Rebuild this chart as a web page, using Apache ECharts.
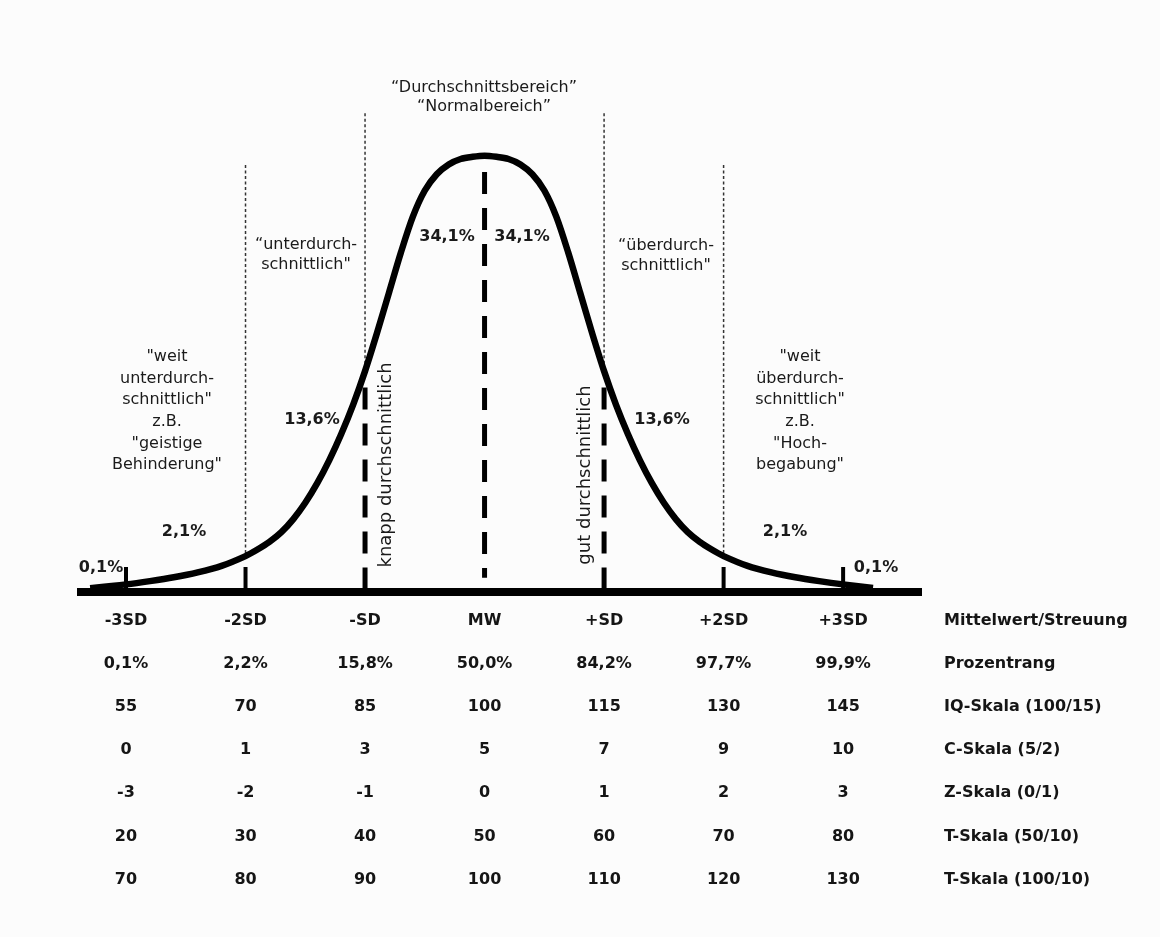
<!DOCTYPE html>
<html>
<head>
<meta charset="utf-8">
<script src="https://cdn.jsdelivr.net/npm/echarts@6/dist/echarts.min.js"></script>
<style>
html,body{margin:0;padding:0;background:#fcfcfc;}
#chart{width:1160px;height:937px;}
</style>
</head>
<body>
<div id="chart"></div>
<script>
// ---- data ----
const sdPositions = [-3, -2, -1, 0, 1, 2, 3];
const rowNames = ['Mittelwert/Streuung', 'Prozentrang', 'IQ-Skala (100/15)', 'C-Skala (5/2)', 'Z-Skala (0/1)', 'T-Skala (50/10)', 'T-Skala (100/10)'];
const rowSD   = ['-3SD', '-2SD', '-SD', 'MW', '+SD', '+2SD', '+3SD'];
const rowPR   = ['0,1%', '2,2%', '15,8%', '50,0%', '84,2%', '97,7%', '99,9%'];
const rowIQ   = ['55', '70', '85', '100', '115', '130', '145'];
const rowC    = ['0', '1', '3', '5', '7', '9', '10'];
const rowZ    = ['-3', '-2', '-1', '0', '1', '2', '3'];
const rowT50  = ['20', '30', '40', '50', '60', '70', '80'];
const rowT100 = ['70', '80', '90', '100', '110', '120', '130'];

// curve (x in SD units, y = height above baseline)
const curveX = [-3.3, -3.0, -2.8, -2.6, -2.4, -2.2, -2.0, -1.9, -1.8, -1.7, -1.6, -1.5, -1.4, -1.3, -1.2, -1.1, -1.0, -0.9, -0.8, -0.7, -0.6, -0.5, -0.4, -0.3, -0.2, -0.1, 0,
                0.1, 0.2, 0.3, 0.4, 0.5, 0.6, 0.7, 0.8, 0.9, 1.0, 1.1, 1.2, 1.3, 1.4, 1.5, 1.6, 1.7, 1.8, 1.9, 2.0, 2.2, 2.4, 2.6, 2.8, 3.0, 3.25];
const curveY = [0.0035, 0.007, 0.010, 0.0135, 0.018, 0.024, 0.033, 0.039, 0.046, 0.055, 0.067, 0.082, 0.100, 0.121, 0.145, 0.172, 0.203, 0.238, 0.275, 0.312, 0.345, 0.369, 0.384, 0.393, 0.398, 0.400, 0.401,
                0.400, 0.398, 0.393, 0.384, 0.369, 0.345, 0.312, 0.275, 0.238, 0.203, 0.172, 0.145, 0.121, 0.100, 0.082, 0.067, 0.055, 0.046, 0.039, 0.033, 0.024, 0.018, 0.0135, 0.010, 0.007, 0.0038];

const tickZ = [-3, -2, 2, 3];
const tickTop = 0.023;
const outerDottedZ = [-2, 2];
const outerDottedRange = [0.3925, 0.032];
const innerDottedZ = [-1, 1];
const innerDottedRange = [0.440, 0.204];
const innerDashRange = [0.188, 0];
const meanZ = 0;
const meanDashRange = [0.386, 0.013];

const rows = [rowSD, rowPR, rowIQ, rowC, rowZ, rowT50, rowT100];
const rowOffsets = [29, 72, 115, 158, 201, 245, 288];

// ---- chart ----
const FONT = "'DejaVu Sans', sans-serif";
const chart = echarts.init(document.getElementById('chart'));

function vline(z, range, style, z2) {
  return {
    type: 'line', xAxisIndex: 0, yAxisIndex: 0, symbol: 'none', silent: true,
    z: z2 || 2,
    data: [[z, range[0]], [z, range[1]]],
    lineStyle: style
  };
}

const series = [];
outerDottedZ.forEach(z => series.push(vline(z, outerDottedRange, {color: '#333', width: 1.5, type: [3, 2.5]})));
innerDottedZ.forEach(z => series.push(vline(z, innerDottedRange, {color: '#333', width: 1.5, type: [3, 2.5]})));
innerDottedZ.forEach(z => series.push(vline(z, innerDashRange, {color: '#000', width: 5, type: [22, 14], cap: 'butt'})));
series.push(vline(meanZ, meanDashRange, {color: '#000', width: 5, type: [22, 14], cap: 'butt'}));
tickZ.forEach(z => series.push(vline(z, [0, tickTop], {color: '#000', width: 4, type: 'solid', cap: 'butt'})));
series.push({
  type: 'line', xAxisIndex: 0, yAxisIndex: 0, symbol: 'none', silent: true, z: 5,
  smooth: 0.3,
  data: curveX.map((x, i) => [x, curveY[i]]),
  lineStyle: {color: '#000', width: 6.5, join: 'round'}
});

const xAxes = [{
  type: 'value', gridIndex: 0, position: 'bottom', min: -3.41, max: 3.66,
  axisLine: {show: true, onZero: false, lineStyle: {color: '#000', width: 8, cap: 'butt'}},
  axisTick: {show: false}, axisLabel: {show: false}, splitLine: {show: false}
}];
rows.forEach((row, i) => {
  xAxes.push({
    type: 'value', gridIndex: 0, position: 'bottom', min: -3.41, max: 3.66,
    offset: rowOffsets[i],
    name: rowNames[i], nameLocation: 'end', nameGap: 22,
    nameTextStyle: {fontFamily: FONT, fontWeight: 'bold', fontSize: 16, color: '#151515', align: 'left', verticalAlign: 'middle'},
    axisLine: {show: false, onZero: false}, axisTick: {show: false}, splitLine: {show: false},
    axisLabel: {
      show: true, customValues: sdPositions, margin: 0, verticalAlign: 'middle',
      fontFamily: FONT, fontWeight: 'bold', fontSize: 16, color: '#151515',
      formatter: v => row[sdPositions.indexOf(Math.round(v))]
    }
  });
});

const txt = (text, x, y, opts) => Object.assign({
  type: 'text', x: x, y: y, silent: true, z: 10,
  style: Object.assign({
    text: text, fill: '#1a1a1a', align: 'center', verticalAlign: 'middle',
    fontFamily: FONT, fontSize: 16, fontWeight: 'normal'
  }, opts && opts.style)
}, opts && opts.el);

const graphics = [
  txt('“Durchschnittsbereich”\n“Normalbereich”', 484, 97, {style: {lineHeight: 19}}),
  txt('“unterdurch-\nschnittlich"', 306, 255, {style: {lineHeight: 20}}),
  txt('“überdurch-\nschnittlich"', 666, 256, {style: {lineHeight: 20}}),
  txt('"weit\nunterdurch-\nschnittlich"\nz.B.\n"geistige\nBehinderung"', 167, 411, {style: {lineHeight: 21.6}}),
  txt('"weit\nüberdurch-\nschnittlich"\nz.B.\n"Hoch-\nbegabung"', 800, 411, {style: {lineHeight: 21.6}}),
  txt('34,1%', 447, 237, {style: {fontWeight: 'bold'}}),
  txt('34,1%', 522, 237, {style: {fontWeight: 'bold'}}),
  txt('13,6%', 312, 420, {style: {fontWeight: 'bold'}}),
  txt('13,6%', 662, 420, {style: {fontWeight: 'bold'}}),
  txt('2,1%', 184, 532, {style: {fontWeight: 'bold'}}),
  txt('2,1%', 785, 532, {style: {fontWeight: 'bold'}}),
  txt('0,1%', 101, 568, {style: {fontWeight: 'bold'}}),
  txt('0,1%', 876, 568, {style: {fontWeight: 'bold'}}),
  txt('knapp durchschnittlich', 386, 465, {style: {fontSize: 18}, el: {rotation: Math.PI / 2}}),
  txt('gut durchschnittlich', 585, 475, {style: {fontSize: 18}, el: {rotation: Math.PI / 2}})
];

chart.setOption({
  backgroundColor: '#fcfcfc',
  animation: false,
  grid: {left: 77, right: 238, top: 48, bottom: 345, containLabel: false, outerBoundsMode: 'none'},
  xAxis: xAxes,
  yAxis: {type: 'value', min: 0, max: 0.5, show: false, gridIndex: 0},
  series: series,
  graphic: graphics
});
</script>
</body>
</html>
